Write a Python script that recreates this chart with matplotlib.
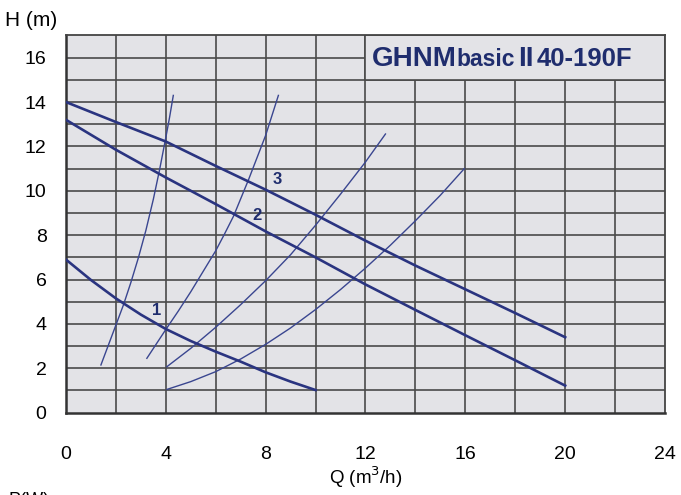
import matplotlib
matplotlib.use("Agg")
import matplotlib.pyplot as plt
from matplotlib.patches import Rectangle
from matplotlib.offsetbox import TextArea, HPacker, AnchoredOffsetbox

plt.rcParams['font.family'] = ['Liberation Sans', 'DejaVu Sans']

# pump curves (speed 1..3), Q in m3/h, H in m
q_speed1 = [0, 1, 2, 3, 4, 5, 6, 7, 8, 9, 10]
h_speed1 = [6.9, 5.98, 5.15, 4.42, 3.77, 3.23, 2.75, 2.3, 1.82, 1.4, 1.02]
q_speed2 = [0, 2, 4, 6, 8, 10, 12, 14, 16, 18, 20]
h_speed2 = [13.2, 11.85, 10.6, 9.4, 8.17, 7.0, 5.78, 4.63, 3.49, 2.36, 1.22]
q_speed3 = [0, 2, 4, 6, 8, 10, 12, 14, 16, 18, 20]
h_speed3 = [14.0, 13.1, 12.22, 11.12, 10.05, 8.92, 7.75, 6.63, 5.56, 4.49, 3.4]

# system curves
q_sys1 = [1.40, 1.7, 2.0, 2.3, 2.6, 2.9, 3.2, 3.5, 3.75, 4.0, 4.15, 4.30]
h_sys1 = [2.15, 3.05, 3.95, 4.85, 5.87, 6.98, 8.21, 9.62, 10.95, 12.4, 13.31, 14.3]
q_sys2 = [3.24, 4.0, 4.5, 5.0, 6.0, 6.35, 6.71, 7.31, 8.0, 8.51]
h_sys2 = [2.45, 3.75, 4.58, 5.45, 7.3, 8.05, 8.85, 10.49, 12.5, 14.3]
q_sys3 = [4.04, 5.0, 6.0, 7.0, 8.0, 9.0, 10.0, 11.0, 12.0, 12.8]
h_sys3 = [2.07, 2.9, 3.85, 4.87, 5.95, 7.12, 8.45, 9.85, 11.3, 12.56]
q_sys4 = [4.05, 5, 6, 7, 8, 9, 10, 11, 12, 13, 14, 15, 15.96]
h_sys4 = [1.05, 1.4, 1.85, 2.42, 3.08, 3.82, 4.65, 5.55, 6.52, 7.55, 8.65, 9.8, 11.0]

curve_labels = ['1', '2', '3']
label_q = [3.63, 7.65, 8.45]
label_h = [4.6, 8.9, 10.5]

x_ticks = [0, 4, 8, 12, 16, 20, 24]
y_ticks = [0, 2, 4, 6, 8, 10, 12, 14, 16]

navy = '#2a3480'
thin = '#3a4690'
dark = '#1f2d6e'
grid_c = '#4a4a4a'
bg = '#e3e3e7'

fig = plt.figure(figsize=(6.81, 4.95), dpi=100)
ax = fig.add_axes([0.0969, 0.1663, 0.8796, 0.762])
ax.set_facecolor(bg)
ax.set_xlim(0, 24)
ax.set_ylim(0, 17)

# grid
for h in range(1, 17):
    ax.axhline(h, color=grid_c, lw=1.2, zorder=1)
for q in range(2, 24, 2):
    ax.axvline(q, color=grid_c, lw=1.2, zorder=1)

# title box
ax.add_patch(Rectangle((12, 15), 12, 2, facecolor=bg, edgecolor=grid_c, lw=1.2, zorder=2))

for s in ['top', 'right']:
    ax.spines[s].set_linewidth(1.3)
    ax.spines[s].set_color('#444444')
for s in ['left', 'bottom']:
    ax.spines[s].set_linewidth(1.8)
    ax.spines[s].set_color('#333333')

# system curves
for qs, hs in [(q_sys1, h_sys1), (q_sys2, h_sys2), (q_sys3, h_sys3), (q_sys4, h_sys4)]:
    ax.plot(qs, hs, color=thin, lw=1.0, zorder=3)

# pump curves
for qs, hs in [(q_speed1, h_speed1), (q_speed2, h_speed2), (q_speed3, h_speed3)]:
    ax.plot(qs, hs, color=navy, lw=1.9, zorder=4)

for lab, lq, lh in zip(curve_labels, label_q, label_h):
    ax.text(lq, lh, lab, color=dark, fontsize=12, fontweight='bold',
            ha='center', va='center', zorder=5)

ax.set_xticks(x_ticks)
ax.set_yticks(y_ticks)
ax.tick_params(axis='both', length=0, labelsize=14)
ax.tick_params(axis='y', pad=14)
ax.tick_params(axis='x', pad=24)

ax.set_xlabel('Q (m$^3$/h)', fontsize=13.5, labelpad=1)
fig.text(0.008, 0.958, 'H (m)', fontsize=15, ha='left', va='center')
fig.text(0.012, 0.006, 'P(W)', fontsize=13, ha='left', va='top')

# model title
tp = dict(fontweight='bold', color=dark)
name = HPacker(children=[TextArea('GHNM', textprops=dict(fontsize=20, **tp)),
                         TextArea('basic', textprops=dict(fontsize=16.5, **tp))],
               align='baseline', pad=0, sep=0)
pack = HPacker(children=[name,
                         TextArea('II', textprops=dict(fontsize=20, **tp)),
                         TextArea('40-190F', textprops=dict(fontsize=18.5, **tp))],
               align='baseline', pad=0, sep=2)
title_box = AnchoredOffsetbox(loc='center left', child=pack, pad=0, borderpad=0,
                              frameon=False, bbox_to_anchor=(12.25, 15.95),
                              bbox_transform=ax.transData)
title_box.set_zorder(6)
ax.add_artist(title_box)

fig.savefig('out.png', dpi=100)
